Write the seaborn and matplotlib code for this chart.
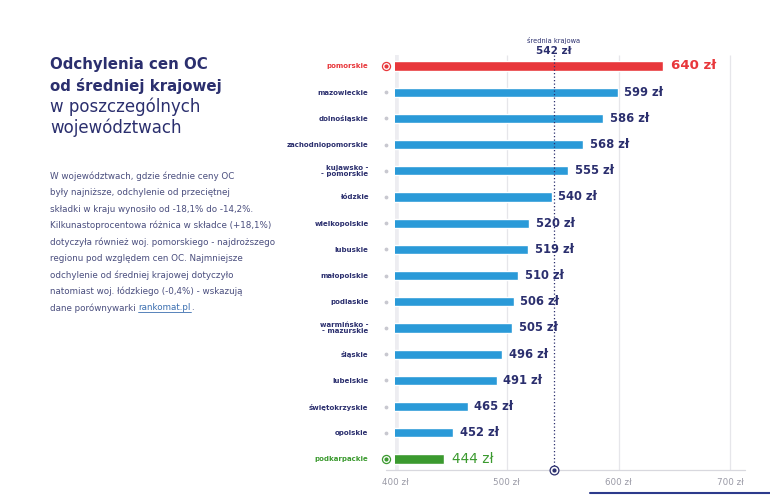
import numpy as np
import pandas as pd
import matplotlib.pyplot as plt
from matplotlib.lines import Line2D
import matplotlib.transforms as mtransforms
import seaborn as sns

# data
regions = ["pomorskie", "mazowieckie", "dolnośląskie", "zachodniopomorskie",
           "kujawsko -\n- pomorskie", "łódzkie", "wielkopolskie", "lubuskie",
           "małopolskie", "podlaskie", "warmińsko -\n- mazurskie", "śląskie",
           "lubelskie", "świętokrzyskie", "opolskie", "podkarpackie"]
prices = [640, 599, 586, 568, 555, 540, 520, 519, 510, 506, 505, 496, 491, 465, 452, 444]
national_avg = 542
x_ticks = [400, 500, 600, 700]

NAVY = "#2b2f6e"
BLUE = "#2a9ad8"
RED = "#e8373b"
GREEN = "#3b9a2f"
GRAY = "#9a9aa6"

sns.set_theme(style="white")
plt.rcParams["font.family"] = ["DejaVu Sans"]

df = pd.DataFrame({"region": regions, "price": prices})
bar_colors = [RED] + [BLUE] * (len(regions) - 2) + [GREEN]
n = len(regions)
y_top, y_bot = -0.8, n - 1 + 0.42

fig = plt.figure(figsize=(7.7, 4.95), dpi=100)
fig.patch.set_facecolor("white")
ax = fig.add_axes([395 / 770, 1 - 470 / 495, 350 / 770, 425 / 495])

sns.barplot(data=df, x="price", y="region", hue="region", palette=bar_colors,
            legend=False, width=0.35, orient="h", ax=ax, saturation=1)

ax.set_xlim(400, 713)
ax.set_ylim(y_bot, y_top)
for s in ["top", "right", "left", "bottom"]:
    ax.spines[s].set_visible(False)

# grid lines
ax.vlines(x_ticks[1:], -0.42, y_bot, color="#e6e6ea", lw=0.9, zorder=0)
ax.vlines([401], -0.42, y_bot, color="#ededf1", lw=4, zorder=0)

# bottom axis line
ax.add_line(Line2D([-0.026, 1.0], [0, 0], transform=ax.transAxes, color="#d8d8de",
                   lw=0.9, clip_on=False))
ax.set_xticks(x_ticks)
ax.set_xticklabels([f"{t} zł" for t in x_ticks], color=GRAY, fontsize=6.3)
ax.tick_params(axis="x", length=0, pad=6)
ax.set_xlabel("")
ax.set_ylabel("")

# y labels
ax.set_yticks(range(n))
ax.set_yticklabels(regions, fontsize=5, fontweight="bold", color=NAVY, linespacing=0.95)
ax.tick_params(axis="y", length=0, pad=19)
ylabels = ax.get_yticklabels()
ylabels[0].set_color(RED)
ylabels[-1].set_color(GREEN)

# row markers on the left
yy = np.arange(n)
ax.scatter([392] * (n - 2), yy[1:-1], s=3, color="#c8c8d0", clip_on=False, zorder=3)
for idx, col in [(0, RED), (n - 1, GREEN)]:
    ax.scatter([392], [idx], s=34, facecolor="white", edgecolor=col, linewidth=0.9,
               clip_on=False, zorder=3)
    ax.scatter([392], [idx], s=4, color=col, clip_on=False, zorder=4)

# value labels
for i, (r, p) in enumerate(zip(regions, prices)):
    if i == 0:
        ax.text(p + 7, i, f"{p} zł", color=RED, fontsize=9.6, fontweight="bold", va="center")
    elif i == n - 1:
        ax.text(p + 7, i, f"{p} zł", color=GREEN, fontsize=9.8, va="center")
    else:
        ax.text(p + 6, i, f"{p} zł", color=NAVY, fontsize=8.3, fontweight="bold", va="center")

# national average
ax.vlines([national_avg], -0.42, y_bot, color=NAVY, lw=0.9, linestyles=[(0, (1, 1.8))], zorder=4)
ax.scatter([national_avg], [y_bot], s=40, facecolor="white", edgecolor=NAVY,
           linewidth=0.9, clip_on=False, zorder=5)
ax.scatter([national_avg], [y_bot], s=4, color=NAVY, clip_on=False, zorder=6)
trans = mtransforms.blended_transform_factory(ax.transData, fig.transFigure)
ax.text(national_avg, 1 - 40 / 495, "średnia krajowa", transform=trans, ha="center", va="center",
        fontsize=4.8, color=NAVY)
ax.text(national_avg, 1 - 51 / 495, f"{national_avg} zł", transform=trans, ha="center", va="center",
        fontsize=7.5, fontweight="bold", color=NAVY)

# titles
fig.text(50 / 770, 1 - 64 / 495, "Odchylenia cen OC", fontsize=10.8, fontweight="bold",
         color=NAVY, va="center")
fig.text(50 / 770, 1 - 86 / 495, "od średniej krajowej", fontsize=10.8, fontweight="bold",
         color=NAVY, va="center")
fig.text(50 / 770, 1 - 107 / 495, "w poszczególnych", fontsize=12, color=NAVY, va="center")
fig.text(50 / 770, 1 - 128 / 495, "województwach", fontsize=12, color=NAVY, va="center")

paragraph = ["W województwach, gdzie średnie ceny OC",
             "były najniższe, odchylenie od przeciętnej",
             "składki w kraju wynosiło od -18,1% do -14,2%.",
             "Kilkunastoprocentowa różnica w składce (+18,1%)",
             "dotyczyła również woj. pomorskiego - najdroższego",
             "regionu pod względem cen OC. Najmniejsze",
             "odchylenie od średniej krajowej dotyczyło",
             "natomiast woj. łódzkiego (-0,4%) - wskazują"]
for k, line in enumerate(paragraph):
    fig.text(50 / 770, 1 - (176 + k * 16.5) / 495, line, fontsize=6.3, color="#4a4e7e", va="center")

last_y = 1 - (176 + 8 * 16.5) / 495
t1 = fig.text(50 / 770, last_y, "dane porównywarki ", fontsize=6.3, color="#4a4e7e", va="center")
fig.canvas.draw()
bb = t1.get_window_extent().transformed(fig.transFigure.inverted())
t2 = fig.text(bb.x1, last_y, "rankomat.pl", fontsize=6.3, color="#3b6fb0", va="center")
fig.canvas.draw()
bb2 = t2.get_window_extent().transformed(fig.transFigure.inverted())
fig.add_artist(Line2D([bb2.x0, bb2.x1], [bb2.y0 + 0.001, bb2.y0 + 0.001], color="#3b6fb0", lw=0.6))
fig.text(bb2.x1, last_y, ".", fontsize=6.3, color="#4a4e7e", va="center")

# decorative line bottom right
fig.add_artist(Line2D([590 / 770, 1.0], [1 - 493 / 495, 1 - 493 / 495], color="#2d3a8c", lw=1.5))

fig.savefig("out.png", dpi=100, facecolor="white")
